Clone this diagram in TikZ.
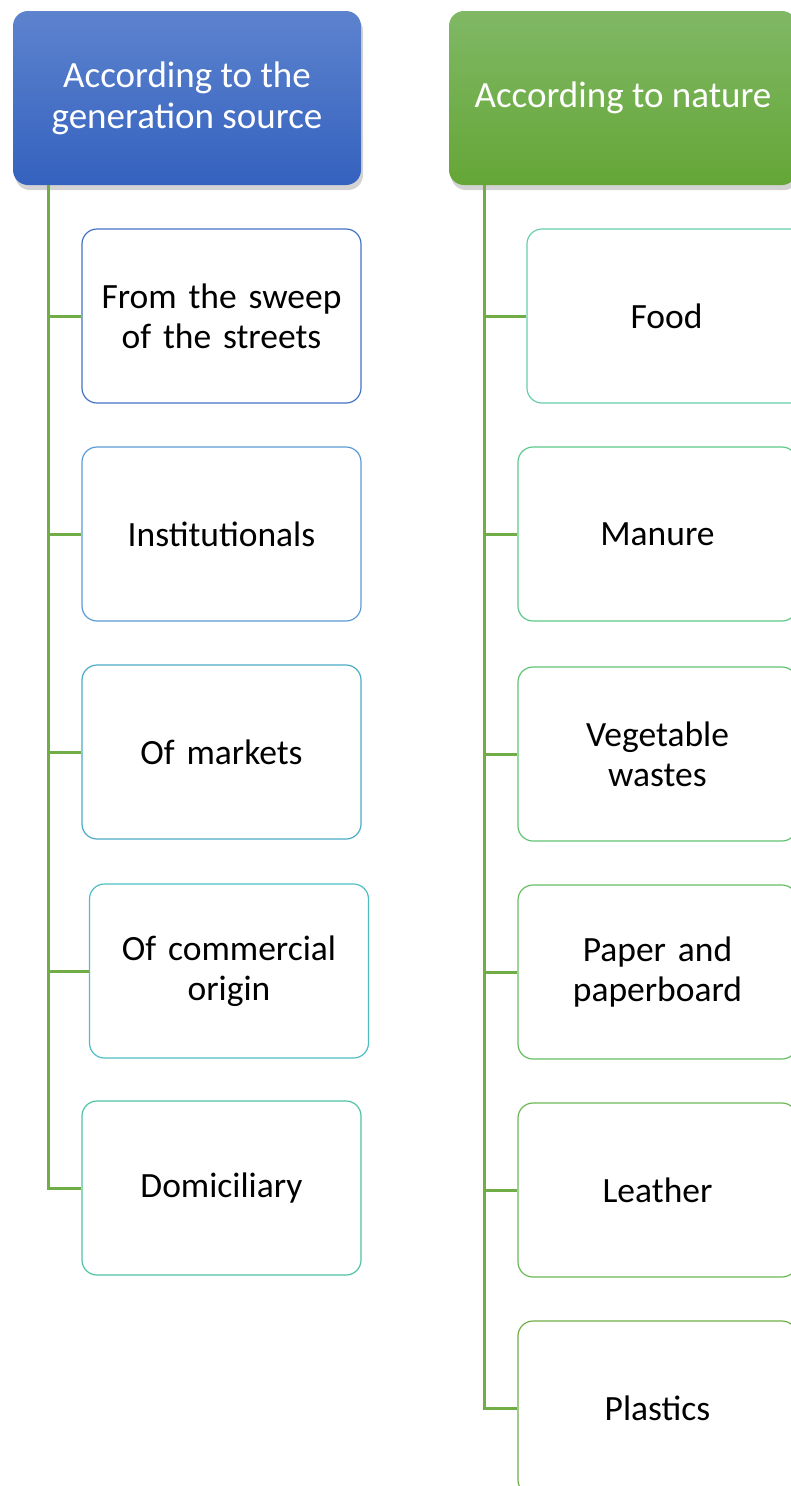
\documentclass[tikz,border=0pt]{standalone}
\usepackage{fontspec}
\setmainfont{Carlito}
\usetikzlibrary{shadows}
\definecolor{srcblue}{HTML}{3562BF}
\definecolor{srcbluetop}{HTML}{5D83CE}
\definecolor{natgreen}{HTML}{65A637}
\definecolor{natgreentop}{HTML}{80B865}
\definecolor{branchgreen}{HTML}{70AD47}
\definecolor{edgeA}{HTML}{4472C4}
\definecolor{edgeB}{HTML}{5B9BD5}
\definecolor{edgeC}{HTML}{4BACC6}
\definecolor{edgeD}{HTML}{4DBFC4}
\definecolor{edgeE}{HTML}{4EC3A5}
\definecolor{edgeF}{HTML}{66CFA8}
\definecolor{edgeG}{HTML}{5CC98A}
\definecolor{edgeH}{HTML}{60C474}
\definecolor{edgeI}{HTML}{66BE62}
\definecolor{edgeJ}{HTML}{6BB854}
\definecolor{edgeK}{HTML}{70AD47}
\tikzset{
  headbox/.style = {rectangle, rounded corners=15pt, minimum width=348pt,
                    minimum height=174pt, inner sep=0pt, align=center,
                    text=white, font=\fontsize{37}{41}\selectfont,
                    drop shadow={opacity=0.35, shadow xshift=2pt, shadow yshift=-5pt}},
  leafbox/.style  = {rectangle, rounded corners=15pt, draw=#1, line width=1.2pt,
                    fill=white, minimum width=279pt, minimum height=174pt,
                    inner sep=0pt, text width=275pt, align=center,
                    font=\fontsize{35.5}{40}\selectfont},
  branch/.style   = {draw=branchgreen, line width=3pt}
}

\begin{document}
\begin{tikzpicture}[x=1pt,y=-1pt]
	\useasboundingbox (0,0) rectangle (791,1486);
	\def \hy{98}   % header centre
	\def \dy{218}  % leaf spacing

	% Headers
	\node[headbox, top color=srcbluetop, bottom color=srcblue] (srcHead) at (187,\hy)
		{According to the\\generation source};
	\node[headbox, top color=natgreentop, bottom color=natgreen] (natHead) at (623,\hy)
		{According to nature};

	% Trunks
	\coordinate (srcTrunk) at (48,185);
	\coordinate (natTrunk) at (484,185);

	% Generation source
	\node[leafbox=edgeA] (sweep)      at (221.5,316)       {From the sweep\\of the streets};
	\node[leafbox=edgeB] (institut)   at (221.5,316+\dy)   {Institutionals};
	\node[leafbox=edgeC] (markets)    at (221.5,316+2*\dy) {Of markets};
	\node[leafbox=edgeD] (commercial) at (229,971)         {Of commercial\\origin};
	\node[leafbox=edgeE] (domicil)    at (221.5,1188)      {Domiciliary};

	% Nature
	\node[leafbox=edgeF] (food)       at (666.5,316)        {Food};
	\node[leafbox=edgeG] (manure)     at (657.5,534)        {Manure};
	\node[leafbox=edgeH] (vegetable)  at (657.5,754)        {Vegetable\\wastes};
	\node[leafbox=edgeI] (paper)      at (657.5,972)        {Paper and\\paperboard};
	\node[leafbox=edgeJ] (leather)    at (657.5,1190)       {Leather};
	\node[leafbox=edgeK] (plastics)   at (657.5,1408)       {Plastics};

	% Branches
	\draw[branch] (srcTrunk) |- (sweep.west);
	\draw[branch] (srcTrunk) |- (institut.west);
	\draw[branch] (srcTrunk) |- (markets.west);
	\draw[branch] (srcTrunk) |- (commercial.west);
	\draw[branch] (srcTrunk) |- (domicil.west);

	\draw[branch] (natTrunk) |- (food.west);
	\draw[branch] (natTrunk) |- (manure.west);
	\draw[branch] (natTrunk) |- (vegetable.west);
	\draw[branch] (natTrunk) |- (paper.west);
	\draw[branch] (natTrunk) |- (leather.west);
	\draw[branch] (natTrunk) |- (plastics.west);
\end{tikzpicture}
\end{document}
